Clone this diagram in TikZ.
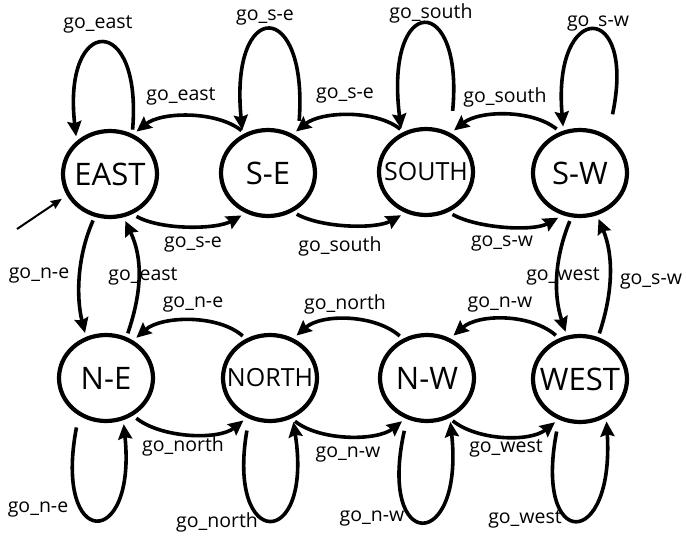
\documentclass[tikz,border=0pt]{standalone}
\usepackage{fontspec}
\setmainfont{Open Sans}
\usetikzlibrary{arrows.meta,shapes.geometric}
\begin{document}
\begin{tikzpicture}[x=1pt,y=-1pt,
  st/.style={ellipse,draw,line width=4.2pt,minimum width=94pt,minimum height=86pt,inner sep=0pt,outer sep=6pt},
  big/.style={font=\fontsize{31}{31}\selectfont,inner sep=0pt},
  mid/.style={font=\fontsize{25}{25}\selectfont,inner sep=0pt},
  lbl/.style={font=\fontsize{19.5}{19.5}\selectfont,inner sep=0pt},
  tr/.style={line width=3.6pt,-{Stealth[length=15pt,width=14pt,inset=2pt]}},
]
\useasboundingbox (0,0) rectangle (686,538);
% states
\node[st,label={[big]center:EAST}] (E) at (110,174) {};
\node[st,label={[big]center:S-E}] (SE) at (268,173) {};
\node[st,label={[mid]center:SOUTH}] (S) at (426,172) {};
\node[st,label={[big]center:S-W}] (SW) at (580,173) {};
\node[st,label={[big]center:N-E}] (NE) at (106,378) {};
\node[st,label={[mid]center:NORTH}] (N) at (270,378) {};
\node[st,label={[big]center:N-W}] (NW) at (427,378) {};
\node[st,label={[big]center:WEST}] (W) at (580,379) {};
% initial arrow
\coordinate (init) at (17,229);
\draw[line width=2pt,-{Stealth[length=11pt,width=9pt,inset=1pt]},shorten >=2pt] (init) -- (E.207);
% top row horizontal arcs
\draw[tr] (SE.122) .. controls +(-25,-20) and +(25,-20) .. (E.58);
\draw[tr] (E.-58) .. controls +(25,14) and +(-25,14) .. (SE.-122);
\draw[tr] (S.121) .. controls +(-25,-20) and +(25,-20) .. (SE.56);
\draw[tr] (SE.-55) .. controls +(25,14) and +(-25,14) .. (S.-120);
\draw[tr] (SW.118) .. controls +(-25,-20) and +(25,-20) .. (S.56);
\draw[tr] (S.-58) .. controls +(25,14) and +(-25,14) .. (SW.-116);
% top loops
\draw[tr] (E.63) .. controls +(10,-118) and +(-14,-122) .. (E.132);
\draw[tr,shorten <=12pt] (SE.53) .. controls +(10,-135) and +(-13,-133) .. (SE.121);
\draw[tr,shorten <=18pt] (S.60) .. controls +(13,-137) and +(-17,-137) .. (S.120);
\draw[tr,shorten <=18pt] (SW.55) .. controls +(28,-132) and +(-11,-127) .. (SW.110);
% verticals
\draw[tr] (E.-110) .. controls +(-16,36) and +(-9,-36) .. (NE.115);
\draw[tr] (NE.64) .. controls +(14,-41) and +(18,38) .. (E.-72);
\draw[tr] (SW.-102) .. controls +(-16,39) and +(-12,-36) .. (W.107);
\draw[tr] (W.67) .. controls +(14,-42) and +(15,36) .. (SW.-68);
% bottom row horizontal arcs
\draw[tr] (N.123) .. controls +(-25,-22) and +(25,-22) .. (NE.53);
\draw[tr] (NE.-53) .. controls +(25,20) and +(-25,20) .. (N.-122);
\draw[tr] (NW.123) .. controls +(-25,-22) and +(25,-22) .. (N.58);
\draw[tr] (N.-60) .. controls +(25,20) and +(-25,20) .. (NW.-120);
\draw[tr] (W.119) .. controls +(-25,-22) and +(25,-22) .. (NW.58);
\draw[tr] (NW.-59) .. controls +(25,20) and +(-25,20) .. (W.-120);
% bottom loops
\draw[tr,shorten <=8pt] (NE.-124) .. controls +(-25,131) and +(13,127) .. (NE.-69);
\draw[tr,shorten <=8pt] (N.-116) .. controls +(-22,129) and +(20,129) .. (N.-62);
\draw[tr,shorten <=8pt] (NW.-115) .. controls +(-29,131) and +(14,131) .. (NW.-62);
\draw[tr,shorten <=8pt] (W.-116) .. controls +(-25,128) and +(8,130) .. (W.-58);
% labels
\node[lbl] (l1) at (98,24) {go\_east};
\node[lbl] (l2) at (265,18) {go\_s-e};
\node[lbl] (l3) at (431,13) {go\_south};
\node[lbl] (l4) at (598,24) {go\_s-w};
\node[lbl] (l5) at (181,96) {go\_east};
\node[lbl] (l6) at (345,96) {go\_s-e};
\node[lbl] (l7) at (505,97) {go\_south};
\node[lbl] (l8) at (193,245) {go\_s-e};
\node[lbl] (l9) at (340,246) {go\_south};
\node[lbl] (l10) at (502,244) {go\_s-w};
\node[lbl] (l11) at (39,276) {go\_n-e};
\node[lbl] (l12) at (143,276) {go\_east};
\node[lbl] (l13) at (563,276) {go\_west};
\node[lbl] (l14) at (651,282) {go\_s-w};
\node[lbl] (l15) at (193,305) {go\_n-e};
\node[lbl] (l16) at (345,304) {go\_north};
\node[lbl] (l17) at (500,305) {go\_n-w};
\node[lbl] (l18) at (183,446) {go\_north};
\node[lbl] (l19) at (348,455) {go\_n-w};
\node[lbl] (l20) at (506,448) {go\_west};
\node[lbl] (l21) at (38,510) {go\_n-e};
\node[lbl] (l22) at (217,522) {go\_north};
\node[lbl] (l23) at (372,519) {go\_n-w};
\node[lbl] (l24) at (525,519) {go\_west};
\end{tikzpicture}
\end{document}
